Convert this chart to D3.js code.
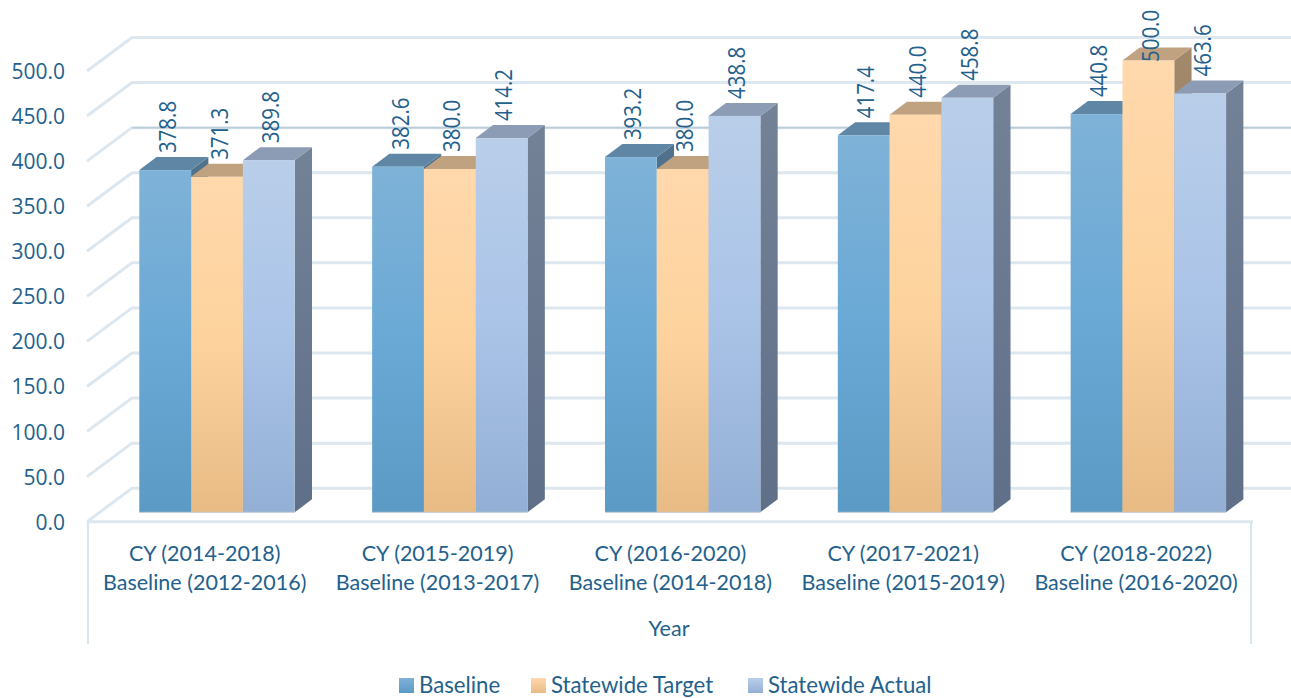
<!DOCTYPE html>
<html><head><meta charset="utf-8">
<script src="https://cdnjs.cloudflare.com/ajax/libs/d3/7.8.5/d3.min.js"></script>
<style>html,body{margin:0;padding:0;background:#fff;overflow:hidden}svg{display:block}</style>
</head><body><svg id="c" width="1291" height="698"></svg>
<script>
const categories = [["CY (2014-2018)","Baseline (2012-2016)"],["CY (2015-2019)","Baseline (2013-2017)"],["CY (2016-2020)","Baseline (2014-2018)"],["CY (2017-2021)","Baseline (2015-2019)"],["CY (2018-2022)","Baseline (2016-2020)"]];
const seriesNames = ["Baseline","Statewide Target","Statewide Actual"];
const baseline = [378.8,382.6,393.2,417.4,440.8];
const target = [371.3,380.0,380.0,440.0,500.0];
const actual = [389.8,414.2,438.8,458.8,463.6];
const ticks = [0,50,100,150,200,250,300,350,400,450,500];

const seriesValues = [baseline,target,actual];
const styles = [
 {top:"#5f87a5",side:["#50728c","#41657f"],front:["#7fb2d7","#6aa9d6","#5a9ac4"]},
 {top:"#c0a281",side:["#a3896c","#8f7759"],front:["#ffd8ac","#fdd29c","#e8bb85"]},
 {top:"#8b9cb4",side:["#748297","#5f6f88"],front:["#b9cee9","#aac4e8","#94afd5"]}
];
const TEXT="#23618c", GRID="#dde7ef";
const svg=d3.select("#c");
const defs=svg.append("defs");
styles.forEach((s,i)=>{
  const g=defs.append("linearGradient").attr("id","f"+i).attr("x1",0).attr("x2",0).attr("y1",0).attr("y2",1);
  s.front.forEach((c,k)=>g.append("stop").attr("offset",k/(s.front.length-1)).attr("stop-color",c));
  const h=defs.append("linearGradient").attr("id","s"+i).attr("x1",0).attr("x2",0).attr("y1",0).attr("y2",1);
  s.side.forEach((c,k)=>h.append("stop").attr("offset",k).attr("stop-color",c));
  const l=defs.append("linearGradient").attr("id","l"+i).attr("x1",0).attr("x2",0).attr("y1",0).attr("y2",1);
  [s.front[0],s.front[2]].forEach((c,k)=>l.append("stop").attr("offset",k).attr("stop-color",c));
});

const yWall=d3.scaleLinear().domain([0,500]).range([521.7,71]);
const yBar=d3.scaleLinear().domain([0,500]).range([512.3,60.6]);
const x0=d3.scaleBand().domain(d3.range(categories.length)).range([88.3,1252.5]);
const x1=d3.scaleBand().domain(d3.range(seriesNames.length)).range([51,206.4]);
const wallDX=45, wallDY=33.5, dx=17.3, dy=13;

// walls
const grid=svg.append("g");
ticks.forEach(t=>{
  const y=yWall(t);
  const p=d3.path();p.moveTo(87,y);p.lineTo(87+wallDX,y-wallDY);p.lineTo(1291,y-wallDY);
  grid.append("path").attr("d",p).attr("fill","none").attr("stroke",GRID).attr("stroke-width",3);
  if(t===400) grid.append("line").attr("x1",132).attr("x2",1291).attr("y1",y-wallDY).attr("y2",y-wallDY).attr("stroke","#b9ccd9").attr("stroke-width",1.5);
  svg.append("text").attr("x",65).attr("y",y).attr("text-anchor","end").attr("dominant-baseline","central")
    .attr("font-family","'Open Sans'").attr("font-size",21).attr("fill",TEXT).text(t.toFixed(1));
});
// category axis frame
const ax=svg.append("g").attr("stroke",GRID).attr("fill","none");
ax.append("line").attr("x1",87).attr("x2",1253).attr("y1",521.7).attr("y2",521.7).attr("stroke-width",3);
ax.append("line").attr("x1",88).attr("x2",88).attr("y1",522).attr("y2",644).attr("stroke-width",2).attr("stroke","#d6e6f1");
ax.append("line").attr("x1",1251).attr("x2",1251).attr("y1",522).attr("y2",644).attr("stroke-width",2).attr("stroke","#d6e6f1");

// bars
const bars=svg.append("g");
categories.forEach((c,ci)=>{
  seriesValues.forEach((vals,si)=>{
    const x=x0(ci)+x1(si), w=x1.bandwidth(), yt=yBar(vals[ci]), yb=yBar(0), s=styles[si];
    const poly=pts=>pts.map(p=>p.join(",")).join(" ");
    bars.append("polygon").attr("points",poly([[x+w,yt],[x+w+dx,yt-dy],[x+w+dx,yb-dy],[x+w,yb]])).attr("fill",`url(#s${si})`);
    bars.append("polygon").attr("points",poly([[x,yt],[x+dx,yt-dy],[x+w+dx,yt-dy],[x+w,yt]])).attr("fill",s.top);
    bars.append("rect").attr("x",x).attr("y",yt).attr("width",w).attr("height",yb-yt).attr("fill",`url(#f${si})`);
    bars.append("line").attr("x1",x).attr("x2",x+w).attr("y1",yb).attr("y2",yb).attr("stroke","#c3ccd6").attr("stroke-width",1);
  });
});
// value labels
const labels=svg.append("g");
categories.forEach((c,ci)=>{
  seriesValues.forEach((vals,si)=>{
    const cx=x0(ci)+x1(si)+x1.bandwidth()/2+1.5;
    const by=Math.max(yBar(vals[ci])-17,62);
    labels.append("text").attr("transform",`translate(${cx},${by}) rotate(-90) scale(0.86,1)`)
      .attr("dominant-baseline","central").attr("font-family","'Open Sans'").attr("font-size",23.8).attr("fill",TEXT).text(vals[ci].toFixed(1));
  });
  const t=svg.append("text").attr("text-anchor","middle").attr("font-family","Lato").attr("font-size",21.5).attr("fill",TEXT);
  const mid=x0(ci)+x0.bandwidth()/2;
  t.append("tspan").attr("x",mid).attr("y",561).text(c[0]);
  t.append("tspan").attr("x",mid).attr("y",590).text(c[1]);
});
svg.append("text").attr("x",669).attr("y",636).attr("text-anchor","middle").attr("font-family","Lato").attr("font-size",21.5).attr("fill",TEXT).text("Year");
// legend
const legX=[399,531,748];
seriesNames.forEach((n,i)=>{
  svg.append("rect").attr("x",legX[i]).attr("y",678).attr("width",15).attr("height",15).attr("fill",`url(#l${i})`);
  svg.append("text").attr("x",legX[i]+20).attr("y",693).attr("font-family","Lato").attr("font-size",22.2).attr("fill",TEXT).text(n);
});
</script></body></html>
